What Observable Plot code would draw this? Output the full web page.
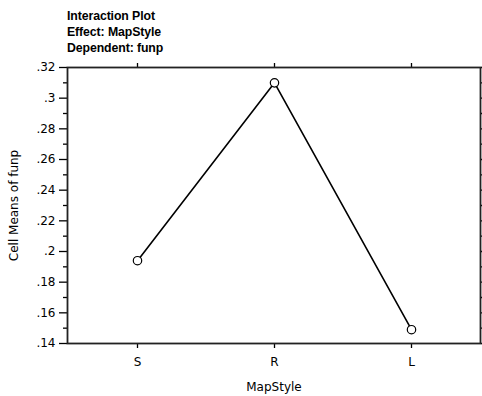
<!DOCTYPE html>
<html>
<head>
<meta charset="utf-8">
<script src="https://cdn.jsdelivr.net/npm/d3@7"></script>
<script src="https://cdn.jsdelivr.net/npm/@observablehq/plot@0.6"></script>
<style>
  html, body { margin: 0; padding: 0; background: #fff; }
  #wrap { width: 482px; height: 396px; position: relative; overflow: hidden; }
  #title { height: 58px; box-sizing: border-box; padding: 8px 0 0 67px;
           font-family: "Liberation Sans", Arial, sans-serif; font-weight: bold;
           font-size: 12.3px; line-height: 16px; letter-spacing: -0.1px; color: #000; }
  svg { display: block; }
</style>
</head>
<body>
<div id="wrap">
  <div id="title"></div>
  <div id="chart"></div>
</div>
<script>
const titleLines = ["Interaction Plot", "Effect: MapStyle", "Dependent: funp"];
const categories = ["S", "R", "L"];
const cellMeans = [0.194, 0.310, 0.149];
const yMajorTicks = [0.14, 0.16, 0.18, 0.20, 0.22, 0.24, 0.26, 0.28, 0.30, 0.32];
const yMinorTicks = [0.15, 0.17, 0.19, 0.21, 0.23, 0.25, 0.27, 0.29, 0.31];
const xLabel = "MapStyle";
const yLabel = "Cell Means of funp";

document.getElementById("title").innerHTML = titleLines.map(t => `<div>${t}</div>`).join("");

const data = categories.map((c, i) => ({cat: c, v: cellMeans[i]}));
const fmt = d => d3.format(".2~f")(d).replace(/^0/, "");

const chart = Plot.plot({
  width: 482,
  height: 338,
  marginTop: 9,
  marginBottom: 53,
  marginLeft: 67,
  marginRight: 2,
  style: {fontFamily: "'DejaVu Sans', sans-serif", fontSize: "12px", color: "#000", background: "#fff"},
  x: {type: "point", domain: categories, padding: 0.5},
  y: {domain: [0.14, 0.32]},
  marks: [
    Plot.axisY({ticks: yMajorTicks, tickSize: 8, tickPadding: 4, tickFormat: fmt, strokeWidth: 1.3,
                label: yLabel, labelAnchor: "center", labelArrow: "none", labelOffset: 58}),
    Plot.axisY({ticks: yMinorTicks, tickSize: 4, text: null, label: null, strokeWidth: 1.3}),
    Plot.axisY({anchor: "right", ticks: yMajorTicks.concat(yMinorTicks), tickSize: 3, text: null, label: null, strokeWidth: 1.3}),
    Plot.axisX({anchor: "top", tickSize: 5, text: null, label: null, strokeWidth: 1.3}),
    Plot.axisX({anchor: "bottom", tickSize: 5, tickPadding: 9, strokeWidth: 1.3,
                label: xLabel, labelAnchor: "center", labelArrow: "none", labelOffset: 47}),
    Plot.frame({stroke: "#222", strokeWidth: 1.8}),
    Plot.line(data, {x: "cat", y: "v", stroke: "#000", strokeWidth: 1.6}),
    Plot.dot(data, {x: "cat", y: "v", r: 4.2, fill: "#fff", stroke: "#000", strokeWidth: 1.2})
  ]
});
document.getElementById("chart").appendChild(chart);
</script>
</body>
</html>
